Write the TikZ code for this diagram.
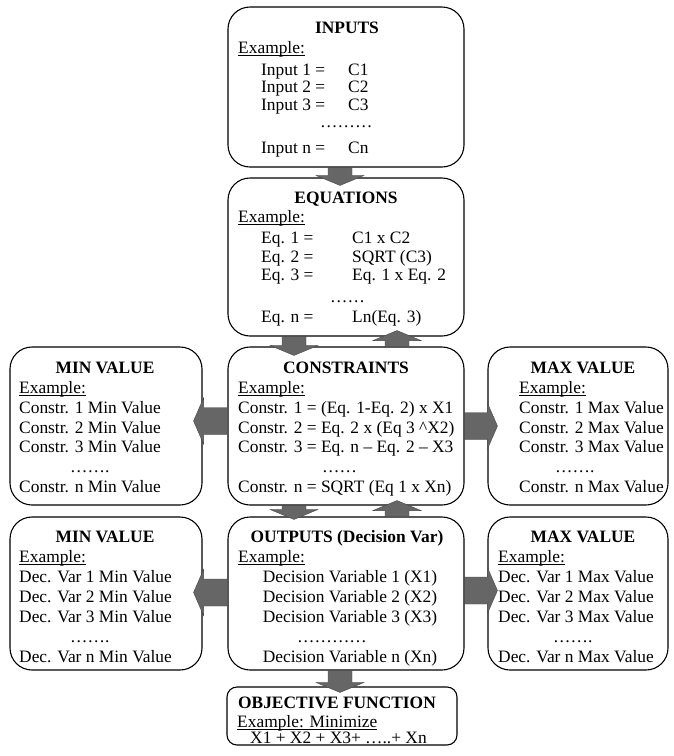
\documentclass[tikz,border=0pt]{standalone}
\usepackage{fontspec}
\setmainfont{Liberation Serif}
\usetikzlibrary{calc}
\newsavebox\ulbox
\newcommand\myul[1]{\sbox\ulbox{#1}\rlap{\rule[-2.3pt]{\wd\ulbox}{0.8pt}}\usebox\ulbox}
\tikzset{
  box/.style={draw, line width=1.1pt, rounded corners=22pt, inner sep=0pt},
  txt/.style={inner sep=0pt, font=\fontsize{17.4}{20}\selectfont, anchor=base west},
  ctxt/.style={inner sep=0pt, font=\fontsize{17.4}{20}\selectfont, anchor=base},
  ttl/.style={inner sep=0pt, font=\fontsize{17.4}{20}\selectfont\bfseries, anchor=base},
  arrfill/.style={fill=black!60, draw=black!72, line width=0.4pt, line join=miter},
}
% block arrows: #1 start of shaft, #2 tip
\newcommand\arrD[2]{\path[arrfill] let \p1=(#1), \p2=(#2) in
  (\x1-12pt,\y1) -- (\x1-12pt,\y2+10pt) -- (\x1-24pt,\y2+10pt) -- (\x1,\y2)
  -- (\x1+24pt,\y2+10pt) -- (\x1+12pt,\y2+10pt) -- (\x1+12pt,\y1) -- cycle;}
\newcommand\arrU[2]{\path[arrfill] let \p1=(#1), \p2=(#2) in
  (\x1-12pt,\y1) -- (\x1-12pt,\y2-10pt) -- (\x1-24pt,\y2-10pt) -- (\x1,\y2)
  -- (\x1+24pt,\y2-10pt) -- (\x1+12pt,\y2-10pt) -- (\x1+12pt,\y1) -- cycle;}
\newcommand\arrL[2]{\path[arrfill] let \p1=(#1), \p2=(#2) in
  (\x1,\y1-13.5pt) -- (\x2+10pt,\y1-13.5pt) -- (\x2+10pt,\y1-23pt) -- (\x2,\y1)
  -- (\x2+10pt,\y1+23pt) -- (\x2+10pt,\y1+13.5pt) -- (\x1,\y1+13.5pt) -- cycle;}
\newcommand\arrR[2]{\path[arrfill] let \p1=(#1), \p2=(#2) in
  (\x1,\y1-13.5pt) -- (\x2-10pt,\y1-13.5pt) -- (\x2-10pt,\y1-23pt) -- (\x2,\y1)
  -- (\x2-10pt,\y1+23pt) -- (\x2-10pt,\y1+13.5pt) -- (\x1,\y1+13.5pt) -- cycle;}
\begin{document}
\begin{tikzpicture}[x=1pt,y=-1pt]
\useasboundingbox (0,0) rectangle (674,756);
% boxes
\node[box, minimum width=236pt, minimum height=160pt] (inputs) at (346,87) {};
\node[box, minimum width=236pt, minimum height=158pt] (equations) at (346,257) {};
\node[box, minimum width=236pt, minimum height=158pt] (constraints) at (346,426) {};
\node[box, minimum width=192pt, minimum height=158pt] (minc) at (106,426) {};
\node[box, minimum width=180pt, minimum height=158pt] (maxc) at (578,426) {};
\node[box, minimum width=236pt, minimum height=153pt] (outputs) at (346,593.5) {};
\node[box, minimum width=192pt, minimum height=153pt] (mind) at (106,593.5) {};
\node[box, minimum width=180pt, minimum height=153pt] (maxd) at (578,593.5) {};
\node[box, rounded corners=10pt, minimum width=230pt, minimum height=58pt] (objective) at (342,716) {};

% INPUTS
\node[ttl] (inT) at (347,33) {INPUTS};
\node[txt] (inE) at (238,53) {\myul{Example:}};
\node[txt] (in1a) at (261,75) {Input 1 =};
\node[txt] (in1b) at (348,75) {C1};
\node[txt] (in2a) at (261,92) {Input 2 =};
\node[txt] (in2b) at (348,92) {C2};
\node[txt] (in3a) at (261,110) {Input 3 =};
\node[txt] (in3b) at (348,110) {C3};
\node[txt] (inD) at (320,127) {………};
\node[txt] (inna) at (261,153) {Input n =};
\node[txt] (innb) at (348,153) {Cn};

% EQUATIONS
\node[ttl] (eqT) at (346,203) {EQUATIONS};
\node[txt] (eqE) at (238,222) {\myul{Example:}};
\node[txt] (eq1a) at (261,243) {Eq. 1 =};
\node[txt] (eq1b) at (352,243) {C1 x C2};
\node[txt] (eq2a) at (261,262) {Eq. 2 =};
\node[txt] (eq2b) at (352,262) {SQRT (C3)};
\node[txt] (eq3a) at (261,280) {Eq. 3 =};
\node[txt] (eq3b) at (352,280) {Eq. 1 x Eq. 2};
\node[txt] (eqD) at (330,302) {……};
\node[txt] (eqna) at (261,322) {Eq. n =};
\node[txt] (eqnb) at (352,322) {Ln(Eq. 3)};

% CONSTRAINTS
\node[ttl] (coT) at (346,373) {CONSTRAINTS};
\node[txt] (coE) at (238,393) {\myul{Example:}};
\node[txt] (co1) at (238,413) {Constr. 1 = (Eq. 1-Eq. 2) x X1};
\node[txt] (co2) at (238,433) {Constr. 2 = Eq. 2 x (Eq 3 \textasciicircum X2)};
\node[txt] (co3) at (238,452) {Constr. 3 = Eq. n – Eq. 2 – X3};
\node[txt] (coD) at (322,472) {……};
\node[txt] (con) at (238,492) {Constr. n = SQRT (Eq 1 x Xn)};

% MIN VALUE (constraints)
\node[ttl] (mcT) at (105,373) {MIN VALUE};
\node[txt] (mcE) at (19,393) {\myul{Example:}};
\node[txt] (mc1) at (19,413) {Constr. 1 Min Value};
\node[txt] (mc2) at (19,433) {Constr. 2 Min Value};
\node[txt] (mc3) at (19,452) {Constr. 3 Min Value};
\node[txt] (mcD) at (70,472) {…….};
\node[txt] (mcn) at (19,492) {Constr. n Min Value};

% MAX VALUE (constraints)
\node[ttl] (xcT) at (583,373) {MAX VALUE};
\node[txt] (xcE) at (519,393) {\myul{Example:}};
\node[txt] (xc1) at (519,413) {Constr. 1 Max Value};
\node[txt] (xc2) at (519,433) {Constr. 2 Max Value};
\node[txt] (xc3) at (519,452) {Constr. 3 Max Value};
\node[txt] (xcD) at (555,472) {…….};
\node[txt] (xcn) at (519,492) {Constr. n Max Value};

% OUTPUTS
\node[ttl] (ouT) at (347,542) {OUTPUTS (Decision Var)};
\node[txt] (ouE) at (238,562) {\myul{Example:}};
\node[ctxt] (ou1) at (350,582) {Decision Variable 1 (X1)};
\node[ctxt] (ou2) at (350,602) {Decision Variable 2 (X2)};
\node[ctxt] (ou3) at (350,622) {Decision Variable 3 (X3)};
\node[txt] (ouD) at (297,642) {…………};
\node[ctxt] (oun) at (350,662) {Decision Variable n (Xn)};

% MIN VALUE (decision vars)
\node[ttl] (mdT) at (105,542) {MIN VALUE};
\node[txt] (mdE) at (19,562) {\myul{Example:}};
\node[txt] (md1) at (19,582) {Dec. Var 1 Min Value};
\node[txt] (md2) at (19,602) {Dec. Var 2 Min Value};
\node[txt] (md3) at (19,622) {Dec. Var 3 Min Value};
\node[txt] (mdD) at (70,642) {…….};
\node[txt] (mdn) at (19,662) {Dec. Var n Min Value};

% MAX VALUE (decision vars)
\node[ttl] (xdT) at (583,542) {MAX VALUE};
\node[txt] (xdE) at (498,562) {\myul{Example:}};
\node[txt] (xd1) at (498,582) {Dec. Var 1 Max Value};
\node[txt] (xd2) at (498,602) {Dec. Var 2 Max Value};
\node[txt] (xd3) at (498,622) {Dec. Var 3 Max Value};
\node[txt] (xdD) at (553,642) {…….};
\node[txt] (xdn) at (498,662) {Dec. Var n Max Value};

% OBJECTIVE
\node[ttl] (obT) at (337,708) {OBJECTIVE FUNCTION};
\node[txt] (obE) at (237,727) {\myul{Example: Minimize}};
\node[txt] (obX) at (250,743) {X1 + X2 + X3+ …..+ Xn};

% block arrows (start of shaft at source node, tip at target node)
\arrD{[xshift=-6pt]inputs.south}{[xshift=-6pt,yshift=-8pt]equations.north}
\arrD{[xshift=-52pt]equations.south}{[xshift=-52pt,yshift=-9pt]constraints.north}
\arrU{[xshift=51pt]constraints.north}{[xshift=51pt,yshift=6pt]equations.south}
\arrD{[xshift=-52pt]constraints.south}{[xshift=-52pt,yshift=-3pt]outputs.north}
\arrU{[xshift=51pt]outputs.north}{[xshift=51pt,yshift=5pt]constraints.south}
\arrD{[xshift=-6pt]outputs.south}{[xshift=-2pt,yshift=-6pt]objective.north}
\arrL{[yshift=5pt]constraints.west}{[xshift=-9pt,yshift=5pt]minc.east}
\arrR{constraints.east}{[xshift=10pt]maxc.west}
\arrL{[yshift=1pt]outputs.west}{[xshift=-9pt,yshift=1pt]mind.east}
\arrR{[yshift=3pt]outputs.east}{[xshift=10pt,yshift=3pt]maxd.west}
\end{tikzpicture}
\end{document}
